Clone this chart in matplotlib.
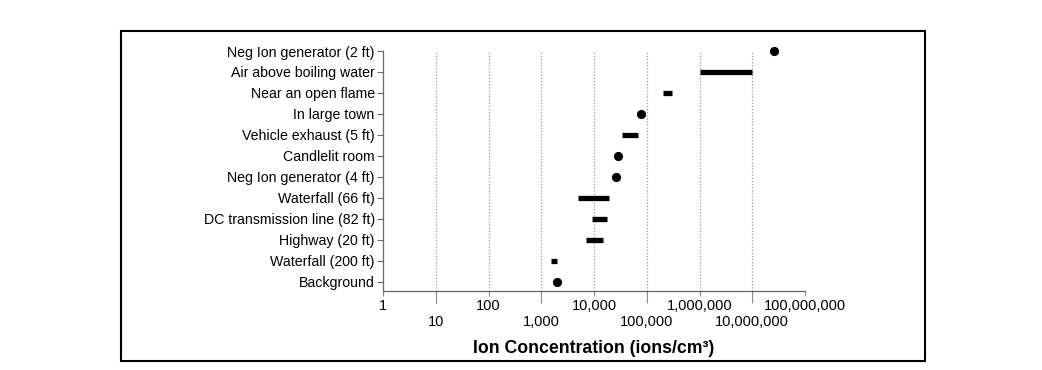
import matplotlib
matplotlib.use("Agg")
import matplotlib.pyplot as plt
from matplotlib.patches import Rectangle
from matplotlib.ticker import FixedLocator, FixedFormatter
import numpy as np

plt.rcParams['font.family'] = ['Liberation Sans', 'DejaVu Sans']

# sources, bottom to top
sources = ["Background", "Waterfall (200 ft)", "Highway (20 ft)",
           "DC transmission line (82 ft)", "Waterfall (66 ft)",
           "Neg Ion generator (4 ft)", "Candlelit room", "Vehicle exhaust (5 ft)",
           "In large town", "Near an open flame", "Air above boiling water",
           "Neg Ion generator (2 ft)"]
# low / high ion concentration (ions/cm3); equal values -> single reading
conc_low = [2000, 1500, 7000, 9000, 5000, 26000, 28500, 34000, 78000,
            200000, 1e6, 2.6e7]
conc_high = [2000, 2000, 15000, 18000, 19000, 26000, 28500, 68000, 78000,
             300000, 1e7, 2.6e7]

odd_decades = [1, 100, 1e4, 1e6, 1e8]
even_decades = [10, 1000, 1e5, 1e7]
grid_decades = [10, 100, 1000, 1e4, 1e5, 1e6, 1e7]

fig = plt.figure(figsize=(10.42, 3.70), dpi=100)
ax = fig.add_axes([383 / 1042, 79 / 370, 422 / 1042, 240 / 370])

y = np.arange(len(sources))
for yi, lo, hi in zip(y, conc_low, conc_high):
    if lo == hi:
        ax.plot(lo, yi, 'o', color='black', markersize=5.6, zorder=3, clip_on=False)
    else:
        ax.hlines(yi, lo, hi, color='black', linewidth=3.8, zorder=3)

ax.set_xscale('log')
ax.set_xlim(1, 1e8)
ax.set_ylim(-0.43, len(sources) - 1)

for d in grid_decades:
    ax.axvline(d, color='#999999', linestyle=(0, (1, 1.5)), linewidth=0.9, zorder=1)

ax.set_yticks(y)
ax.set_yticklabels(sources, fontsize=10.2)
ax.tick_params(axis='y', length=4, width=0.8, color='#666666', pad=2)

ax.xaxis.set_major_locator(FixedLocator(odd_decades))
ax.xaxis.set_minor_locator(FixedLocator(even_decades))
ax.set_xticklabels(['{:,}'.format(int(v)) for v in odd_decades])
ax.xaxis.set_minor_formatter(FixedFormatter(['{:,}'.format(int(v)) for v in even_decades]))
ax.tick_params(axis='x', which='major', length=3.6, width=0.8, color='#888888',
               pad=2, labelsize=10.5)
ax.tick_params(axis='x', which='minor', length=8.6, width=0.8, color='#888888',
               pad=8.5, labelsize=10.5)

for s in ['top', 'right']:
    ax.spines[s].set_visible(False)
for s in ['left', 'bottom']:
    ax.spines[s].set_color('#666666')
    ax.spines[s].set_linewidth(0.9)

ax.set_xlabel('Ion Concentration (ions/cm³)', fontsize=12.7, fontweight='bold', labelpad=8)

frame = Rectangle((121 / 1042, 9 / 370), 804 / 1042, 330 / 370, transform=fig.transFigure,
                  fill=False, edgecolor='black', linewidth=1.5)
fig.patches.append(frame)

fig.savefig('out.png', dpi=100)
